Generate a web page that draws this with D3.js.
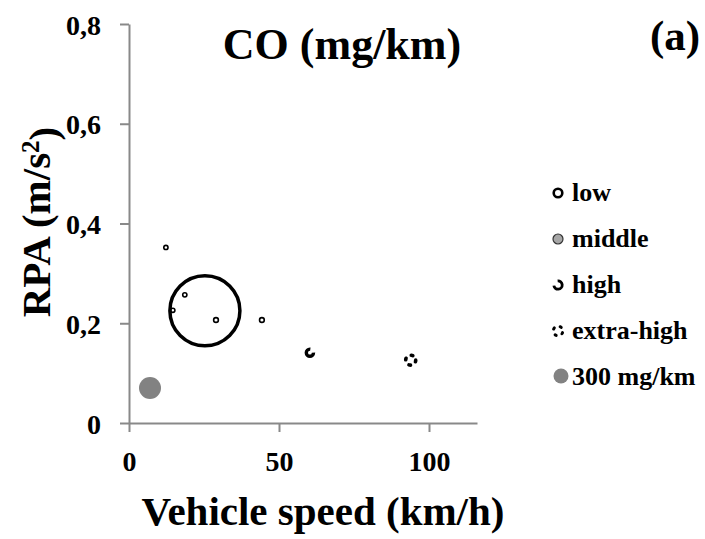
<!DOCTYPE html>
<html>
<head>
<meta charset="utf-8">
<script src="https://cdn.jsdelivr.net/npm/d3@7"></script>
<style>
  body { margin: 0; background: #fff; }
  svg text { font-family: "Liberation Serif", "Times New Roman", serif !important; font-weight: bold; fill: #000; }
</style>
</head>
<body>
<div id="container"></div>
<script>
// values
const speed = [12.3, 14.6, 18.6, 25.3, 29.0, 44.3, 60.3, 93.9];
const rpa = [0.352, 0.226, 0.257, 0.225, 0.2065, 0.2065, 0.141, 0.126];
const co = [11, 11, 11, 3040, 14, 14, 30, 75];
const category = ["low", "low", "low", "low", "low", "low", "high", "extra-high"];

const refSpeed = [7];
const refRpa = [0.07];
const refCo = [300];

const xTicks = [0, 50, 100];
const yTicks = [0, 0.2, 0.4, 0.6, 0.8];
const legendLabels = ["low", "middle", "high", "extra-high", "300 mg/km"];

const width = 705;
const height = 539;
const serif = "Liberation Serif, Times New Roman, serif";

const svg = d3.select("#container").append("svg")
    .attr("width", width)
    .attr("height", height)
    .attr("font-family", serif);

const x = d3.scaleLinear().domain([0, 116]).range([129, 477]);
const y = d3.scaleLinear().domain([0, 0.8]).range([423, 24]);
const r = d3.scaleSqrt().domain([0, 300]).range([0, 11]);

const axisColor = "#898989";

// x axis
const gx = svg.append("g")
    .attr("transform", `translate(0,${y(0)})`)
    .call(d3.axisBottom(x).tickValues(xTicks).tickSize(9).tickSizeOuter(0).tickFormat(d3.format("d")))
    .attr("font-family", serif);
gx.select(".domain").attr("stroke", axisColor).attr("stroke-width", 2);
gx.selectAll(".tick line").attr("stroke", axisColor).attr("stroke-width", 2);
gx.selectAll(".tick text").attr("y", 48).attr("dy", 0)
    .style("font-size", "28px");

// y axis
const gy = svg.append("g")
    .attr("transform", `translate(${x(0)},0)`)
    .call(d3.axisLeft(y).tickValues(yTicks).tickSize(9).tickSizeOuter(0)
        .tickFormat(d => d === 0 ? "0" : d3.format(".1f")(d).replace(".", ",")))
    .attr("font-family", serif);
gy.select(".domain").attr("stroke", axisColor).attr("stroke-width", 2);
gy.selectAll(".tick line").attr("stroke", axisColor).attr("stroke-width", 2);
gy.selectAll(".tick text").attr("x", -28).attr("dy", "0.36em")
    .style("font-size", "28px");

// category stroke styles
const styleFor = {
    "low": { dash: null, width: rr => Math.max(1.6, rr * 0.1) },
    "high": { dash: "17 5", width: () => 3.4 },
    "extra-high": { dash: "1.6 6.25", width: () => 3.6 }
};

const points = speed.map((s, i) => ({ s, v: rpa[i], c: co[i], cat: category[i] }));

// reference bubble
svg.append("g").selectAll("circle")
    .data(refSpeed.map((s, i) => ({ s, v: refRpa[i], c: refCo[i] })))
    .enter().append("circle")
    .attr("cx", d => x(d.s))
    .attr("cy", d => y(d.v))
    .attr("r", d => r(d.c))
    .attr("fill", "#828282");

svg.append("g").selectAll("circle")
    .data(points)
    .enter().append("circle")
    .attr("cx", d => x(d.s))
    .attr("cy", d => y(d.v))
    .attr("r", d => d.cat === "high" ? 3.6 : d.cat === "extra-high" ? 5 : r(d.c))
    .attr("fill", "none")
    .attr("stroke", "#000")
    .attr("stroke-width", d => styleFor[d.cat].width(r(d.c)))
    .attr("stroke-dasharray", d => styleFor[d.cat].dash)
    .attr("stroke-linecap", d => d.cat === "extra-high" ? "round" : "butt");

// legend
const legend = svg.append("g");
const legendY = d => 193 + d * 46;
legendLabels.forEach((lab, i) => {
    const g = legend.append("g").attr("transform", `translate(558,${legendY(i)})`);
    if (lab === "low") {
        g.append("circle").attr("r", 4.3).attr("fill", "#fff").attr("stroke", "#000").attr("stroke-width", 2.6);
    } else if (lab === "middle") {
        g.append("circle").attr("r", 5).attr("fill", "#a6a6a6").attr("stroke", "#333").attr("stroke-width", 1.2);
    } else if (lab === "high") {
        // open on the left, like a reversed C
        g.append("circle").attr("r", 4.2).attr("fill", "none").attr("stroke", "#000")
            .attr("stroke-width", 2.8).attr("stroke-dasharray", "19 7.4")
            .attr("transform", "rotate(-95)");
    } else if (lab === "extra-high") {
        g.append("circle").attr("r", 4.8).attr("fill", "none").attr("stroke", "#000")
            .attr("stroke-width", 3).attr("stroke-dasharray", "1.3 6.24")
            .attr("stroke-linecap", "round").attr("transform", "rotate(20)");
    } else {
        g.attr("transform", `translate(561,${legendY(i) - 1})`);
        g.append("circle").attr("r", 7.5).attr("fill", "#828282");
    }
    legend.append("text")
        .attr("x", 572)
        .attr("y", legendY(i) + 8)
        .style("font-size", "26px")
        .text(lab);
});

// titles
svg.append("text")
    .attr("x", 342).attr("y", 59)
    .attr("text-anchor", "middle")
    .style("font-size", "44px")
    .text("CO (mg/km)");

svg.append("text")
    .attr("x", 650).attr("y", 50)
    .style("font-size", "43px")
    .text("(a)");

svg.append("text")
    .attr("x", 323).attr("y", 525)
    .attr("text-anchor", "middle")
    .style("font-size", "41px")
    .text("Vehicle speed (km/h)");

const yLab = svg.append("text")
    .attr("transform", "translate(50,222) rotate(-90)")
    .attr("text-anchor", "middle")
    .style("font-size", "41px");
yLab.append("tspan").text("RPA (m/s");
yLab.append("tspan").attr("dy", "-0.45em").style("font-size", "25px").text("2");
yLab.append("tspan").attr("dy", "0.45em").text(")");
</script>
</body>
</html>
